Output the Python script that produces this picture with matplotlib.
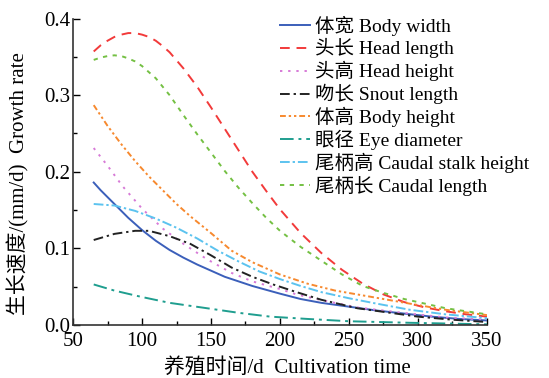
# growth rate curves of body measurements vs cultivation time
import matplotlib
matplotlib.use('Agg')
import matplotlib.pyplot as plt
from matplotlib.ticker import MultipleLocator, FormatStrFormatter

plt.rcParams['font.family'] = ['Liberation Serif', 'Noto Sans CJK SC']

# values
body_width_x = [65, 70, 80, 90, 100, 110, 120, 130, 140, 150, 160, 170, 180, 190, 200, 215, 230, 250, 270, 290, 310, 330, 350]
body_width_y = [0.186, 0.176, 0.158, 0.140, 0.124, 0.110, 0.098, 0.088, 0.079, 0.071, 0.063, 0.057, 0.051, 0.046, 0.041, 0.034, 0.029, 0.024, 0.019, 0.015, 0.011, 0.008, 0.006]

head_length_x = [65, 70, 75, 80, 85, 90, 95, 100, 105, 110, 115, 120, 130, 140, 150, 160, 170, 180, 190, 200, 215, 230, 245, 260, 275, 290, 305, 320, 335, 350]
head_length_y = [0.357, 0.365, 0.371, 0.376, 0.379, 0.381, 0.381, 0.379, 0.376, 0.371, 0.364, 0.356, 0.335, 0.311, 0.284, 0.256, 0.228, 0.200, 0.175, 0.151, 0.120, 0.094, 0.072, 0.054, 0.040, 0.030, 0.023, 0.018, 0.014, 0.011]

head_height_x = [65, 75, 86, 100, 115, 130, 147, 165, 180, 200, 212, 229, 256, 294, 320, 350]
head_height_y = [0.231, 0.208, 0.181, 0.152, 0.126, 0.106, 0.086, 0.068, 0.057, 0.047, 0.040, 0.033, 0.023, 0.015, 0.010, 0.007]

snout_length_x = [65, 80, 95, 105, 120, 135, 150, 165, 180, 195, 212, 230, 256, 280, 300, 325, 350]
snout_length_y = [0.111, 0.119, 0.123, 0.123, 0.116, 0.106, 0.091, 0.075, 0.063, 0.053, 0.043, 0.033, 0.022, 0.016, 0.011, 0.007, 0.004]

body_height_x = [65, 75, 85, 95, 105, 115, 125, 135, 150, 165, 180, 200, 220, 240, 256, 275, 294, 320, 350]
body_height_y = [0.287, 0.260, 0.236, 0.214, 0.194, 0.176, 0.158, 0.142, 0.120, 0.097, 0.082, 0.066, 0.054, 0.045, 0.040, 0.034, 0.028, 0.020, 0.013]

eye_diam_x = [65, 80, 99, 120, 147, 170, 193, 220, 250, 294, 350]
eye_diam_y = [0.053, 0.045, 0.037, 0.029, 0.022, 0.016, 0.011, 0.008, 0.005, 0.003, 0.001]

stalk_height_x = [65, 80, 95, 110, 125, 140, 155, 170, 185, 200, 215, 230, 250, 270, 294, 320, 350]
stalk_height_y = [0.158, 0.156, 0.149, 0.139, 0.127, 0.113, 0.097, 0.083, 0.070, 0.060, 0.051, 0.043, 0.035, 0.028, 0.020, 0.014, 0.009]

caudal_length_x = [65, 70, 75, 80, 85, 90, 95, 100, 110, 120, 130, 140, 150, 160, 170, 180, 190, 200, 215, 230, 245, 260, 275, 290, 305, 320, 335, 350]
caudal_length_y = [0.346, 0.349, 0.351, 0.352, 0.351, 0.348, 0.344, 0.338, 0.322, 0.300, 0.274, 0.249, 0.225, 0.201, 0.179, 0.159, 0.140, 0.123, 0.102, 0.084, 0.066, 0.051, 0.042, 0.034, 0.028, 0.022, 0.018, 0.014]

labels = ['体宽 Body width', '头长 Head length', '头高 Head height', '吻长 Snout length',
          '体高 Body height', '眼径 Eye diameter', '尾柄高 Caudal stalk height', '尾柄长 Caudal length']

series = [
    (body_width_x, body_width_y, '#3b5fba', '-'),
    (head_length_x, head_length_y, '#f23a3a', (0, (5, 3.5))),
    (head_height_x, head_height_y, '#d77ad7', (0, (1.2, 3))),
    (snout_length_x, snout_length_y, '#222222', (0, (5, 2, 1.2, 2))),
    (body_height_x, body_height_y, '#f7892e', (0, (3, 1.5, 1.2, 1.5, 1.2, 1.5))),
    (eye_diam_x, eye_diam_y, '#1f9e8f', (0, (7, 2.5, 1.5, 2.5))),
    (stalk_height_x, stalk_height_y, '#5cc3ef', (0, (5, 1.5, 1.2, 1.5))),
    (caudal_length_x, caudal_length_y, '#74c043', (0, (2.2, 2.8))),
]

fig = plt.figure(figsize=(5.49, 3.78), dpi=100)
ax = fig.add_axes([0.133, 0.140, 0.754, 0.811])

for (xs, ys, c, ls), lab in zip(series, labels):
    ax.plot(xs, ys, color=c, linestyle=ls, linewidth=1.4, label=lab)

ax.set_xlim(50, 350)
ax.set_ylim(0, 0.4)
ax.xaxis.set_major_locator(MultipleLocator(50))
ax.xaxis.set_minor_locator(MultipleLocator(25))
ax.yaxis.set_major_locator(MultipleLocator(0.1))
ax.yaxis.set_minor_locator(MultipleLocator(0.05))
ax.yaxis.set_major_formatter(FormatStrFormatter('%.1f'))
ax.tick_params(which='both', direction='in', top=False, right=False, labelsize=15)
ax.tick_params(axis='x', pad=5)
ax.tick_params(axis='y', pad=2)
ax.tick_params(which='major', length=5, width=1)
ax.tick_params(which='minor', length=3, width=1)
for s in ['top', 'right']:
    ax.spines[s].set_visible(False)
for s in ['left', 'bottom']:
    ax.spines[s].set_linewidth(1.2)
    ax.spines[s].set_color('#333333')

ax.set_xlabel('养殖时间/d  Cultivation time', fontsize=15)
ax.set_ylabel('生长速度/(mm/d)  Growth rate', fontsize=15)
ax.xaxis.set_label_coords(0.519, -0.108)
ax.yaxis.set_label_coords(-0.106, 0.4625)

ax.legend(loc='upper left', bbox_to_anchor=(0.5, 1.01), frameon=False, fontsize=14,
          handlelength=1.55, handletextpad=0.25, labelspacing=0.14, borderaxespad=0, borderpad=0)

fig.savefig('out.png', dpi=100)
